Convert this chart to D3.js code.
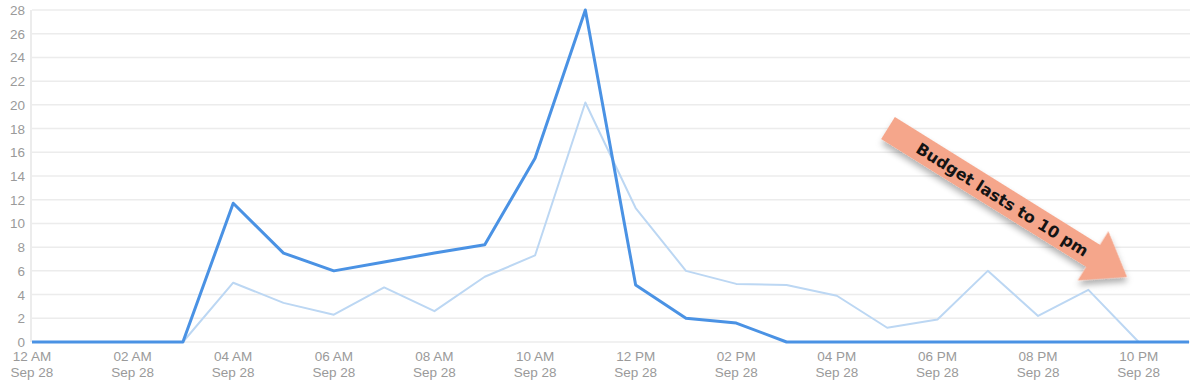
<!DOCTYPE html>
<html>
<head>
<meta charset="utf-8">
<script src="https://cdn.jsdelivr.net/npm/d3@7"></script>
<style>
  body { margin: 0; background: #fff; }
  svg { display: block; font-family: "Liberation Sans", Arial, sans-serif; }
</style>
</head>
<body>
<svg id="chart" width="1195" height="388"></svg>
<script>
// hourly values, Sep 28, 00:00 .. 23:00
var hours = d3.range(0, 24);
var spend = [0, 0, 0, 0, 11.7, 7.5, 6.0, 6.75, 7.5, 8.2, 15.5, 28, 4.8, 2.0, 1.6, 0, 0, 0, 0, 0, 0, 0, 0, 0];
var budget = [0, 0, 0, 0, 5.0, 3.3, 2.3, 4.6, 2.6, 5.5, 7.3, 20.2, 11.3, 6.0, 4.9, 4.8, 3.9, 1.2, 1.9, 6.0, 2.2, 4.4, 0, 0];
var yTicks = d3.range(0, 29, 2);
var xTickHours = d3.range(0, 24, 2);
var xTickLabels = ["12 AM", "02 AM", "04 AM", "06 AM", "08 AM", "10 AM", "12 PM", "02 PM", "04 PM", "06 PM", "08 PM", "10 PM"];
var dateLabel = "Sep 28";
var note = "Budget lasts to 10 pm";

var svg = d3.select("#chart");
var plotLeft = 32, plotRight = 1189, plotTop = 10, plotBottom = 342;

var x = d3.scaleLinear().domain([0, 23]).range([plotLeft, plotRight]);
var y = d3.scaleLinear().domain([0, 28]).range([plotBottom, plotTop]);

// grid
svg.append("g").selectAll("line").data(yTicks).enter().append("line")
  .attr("x1", plotLeft).attr("x2", 1190)
  .attr("y1", function(d) { return y(d); }).attr("y2", function(d) { return y(d); })
  .attr("stroke", "#ececec").attr("stroke-width", 1.5);

svg.append("line")
  .attr("x1", plotLeft - 1).attr("x2", plotLeft - 1).attr("y1", plotTop).attr("y2", plotBottom)
  .attr("stroke", "#e6e6e6").attr("stroke-width", 1.5);

// y labels
svg.append("g").selectAll("text").data(yTicks).enter().append("text")
  .attr("x", 25).attr("y", function(d) { return y(d) + 5; })
  .attr("text-anchor", "end").attr("font-size", 13.5).attr("fill", "#9a9a9a")
  .text(function(d) { return d; });

// x labels
var xl = svg.append("g").selectAll("text").data(xTickHours).enter().append("text")
  .attr("text-anchor", "middle").attr("font-size", 13.5).attr("fill", "#9a9a9a");
xl.append("tspan").attr("x", function(d) { return x(d); }).attr("y", 361)
  .text(function(d, i) { return xTickLabels[i]; });
xl.append("tspan").attr("x", function(d) { return x(d); }).attr("y", 377)
  .text(dateLabel);

var line = d3.line().x(function(d, i) { return x(hours[i]); }).y(function(d) { return y(d); });

svg.append("path").datum(budget).attr("d", line)
  .attr("fill", "none").attr("stroke", "#bcd7f3").attr("stroke-width", 2)
  .attr("stroke-linejoin", "round");

svg.append("path").datum(spend).attr("d", line)
  .attr("fill", "none").attr("stroke", "#4a92e4").attr("stroke-width", 3)
  .attr("stroke-linejoin", "round");

// annotation arrow
var defs = svg.append("defs");
var f = defs.append("filter").attr("id", "shadow").attr("x", "-20%").attr("y", "-20%").attr("width", "150%").attr("height", "150%");
f.append("feDropShadow").attr("dx", 3).attr("dy", 4).attr("stdDeviation", 3)
  .attr("flood-color", "#000").attr("flood-opacity", 0.3);

var x0 = 888, y0 = 128, x1 = 1127, y1 = 277;
var len = Math.hypot(x1 - x0, y1 - y0);
var ang = Math.atan2(y1 - y0, x1 - x0) * 180 / Math.PI;
var sw = 13, hw = 29, hl = 40;
var arrow = svg.append("g").attr("transform", "translate(" + x0 + "," + y0 + ") rotate(" + ang + ")");
arrow.append("path")
  .attr("d", "M0," + (-sw) + "L" + (len - hl) + "," + (-sw) + "L" + (len - hl) + "," + (-hw) +
    "L" + len + ",0L" + (len - hl) + "," + hw + "L" + (len - hl) + "," + sw + "L0," + sw + "Z")
  .attr("fill", "#f5a68b").attr("filter", "url(#shadow)");
arrow.append("text")
  .attr("x", (len - hl) / 2 + 14).attr("y", 6)
  .attr("text-anchor", "middle")
  .attr("font-family", "'DejaVu Sans', sans-serif")
  .attr("font-weight", "bold").attr("font-size", 16).attr("fill", "#141414")
  .text(note);
</script>
</body>
</html>
